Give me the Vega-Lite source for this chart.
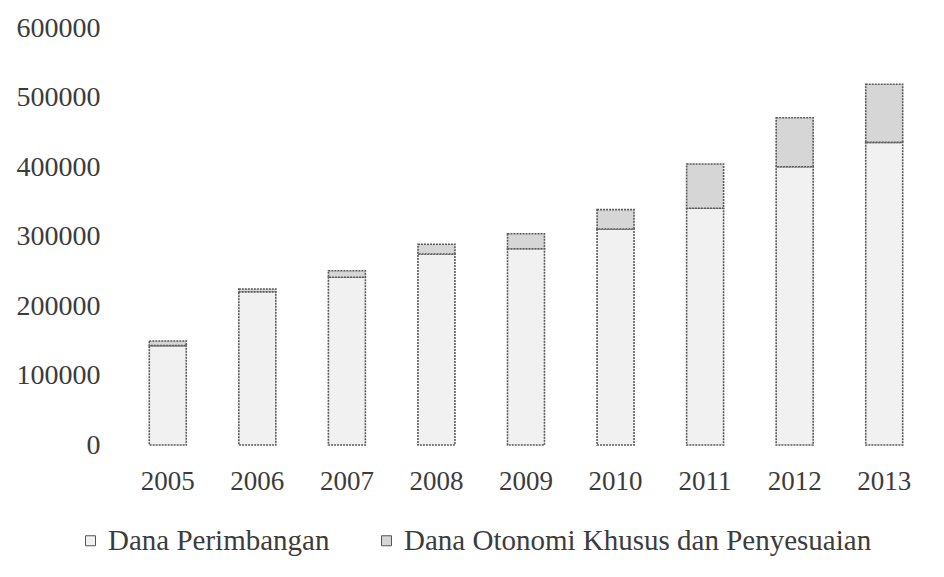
{
  "$schema": "https://vega.github.io/schema/vega-lite/v6.json",
  "width": 806,
  "height": 417,
  "autosize": {"type": "none"},
  "padding": {"left": 123, "top": 28, "right": 15, "bottom": 132},
  "background": "#ffffff",
  "config": {
    "view": {"stroke": null},
    "font": "Liberation Serif",
    "axis": {"grid": false, "domain": false, "ticks": false, "labelFont": "Liberation Serif", "labelColor": "#3c3c3c", "title": null},
    "legend": {"labelFont": "Liberation Serif", "labelColor": "#3c3c3c"}
  },
  "data": {
    "values": [
      {"year": "2005", "series": "Dana Perimbangan", "value": 143000},
      {"year": "2005", "series": "Dana Otonomi Khusus dan Penyesuaian", "value": 6600},
      {"year": "2006", "series": "Dana Perimbangan", "value": 220600},
      {"year": "2006", "series": "Dana Otonomi Khusus dan Penyesuaian", "value": 3900},
      {"year": "2007", "series": "Dana Perimbangan", "value": 241300},
      {"year": "2007", "series": "Dana Otonomi Khusus dan Penyesuaian", "value": 9500},
      {"year": "2008", "series": "Dana Perimbangan", "value": 274800},
      {"year": "2008", "series": "Dana Otonomi Khusus dan Penyesuaian", "value": 14000},
      {"year": "2009", "series": "Dana Perimbangan", "value": 282400},
      {"year": "2009", "series": "Dana Otonomi Khusus dan Penyesuaian", "value": 21600},
      {"year": "2010", "series": "Dana Perimbangan", "value": 310800},
      {"year": "2010", "series": "Dana Otonomi Khusus dan Penyesuaian", "value": 27800},
      {"year": "2011", "series": "Dana Perimbangan", "value": 340600},
      {"year": "2011", "series": "Dana Otonomi Khusus dan Penyesuaian", "value": 63700},
      {"year": "2012", "series": "Dana Perimbangan", "value": 400400},
      {"year": "2012", "series": "Dana Otonomi Khusus dan Penyesuaian", "value": 70500},
      {"year": "2013", "series": "Dana Perimbangan", "value": 435500},
      {"year": "2013", "series": "Dana Otonomi Khusus dan Penyesuaian", "value": 83500}
    ]
  },
  "mark": {"type": "bar", "stroke": "#5a5a5a", "strokeWidth": 1.6, "strokeDash": [2, 1]},
  "encoding": {
    "x": {
      "field": "year", "type": "ordinal",
      "scale": {"paddingInner": 0.587, "paddingOuter": 0.2935},
      "axis": {"labelAngle": 0, "labelFontSize": 27, "labelPadding": 23}
    },
    "y": {
      "field": "value", "type": "quantitative", "stack": "zero",
      "scale": {"domain": [0, 600000], "nice": false},
      "axis": {"values": [0, 100000, 200000, 300000, 400000, 500000, 600000], "format": "d", "labelFontSize": 28, "labelPadding": 23}
    },
    "color": {
      "field": "series", "type": "nominal",
      "sort": ["Dana Perimbangan", "Dana Otonomi Khusus dan Penyesuaian"],
      "scale": {"domain": ["Dana Perimbangan", "Dana Otonomi Khusus dan Penyesuaian"], "range": ["#f1f1f1", "#d6d6d6"]},
      "legend": {
        "title": null, "orient": "none", "direction": "horizontal",
        "legendX": -47, "legendY": 498,
        "symbolType": "square", "symbolSize": 100, "symbolStrokeColor": "#555", "symbolStrokeWidth": 1,
        "labelFont": "Liberation Serif", "labelFontSize": 29, "labelOffset": 3, "columnPadding": 42, "labelLimit": 600
      }
    },
    "order": {"field": "series", "sort": "descending"}
  }
}
